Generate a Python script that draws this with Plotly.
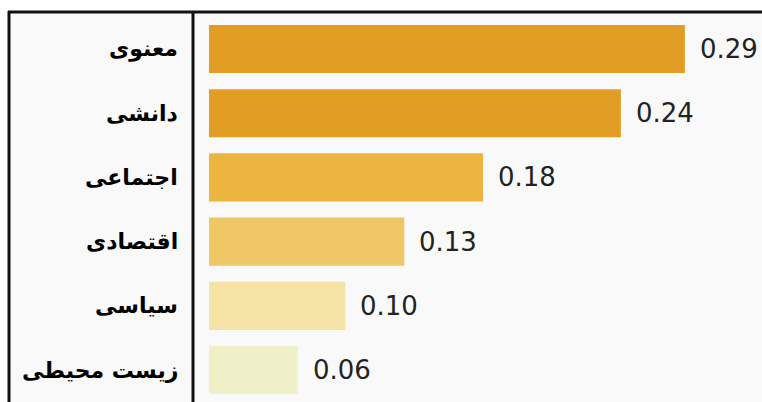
import plotly.graph_objects as go

categories = ["معنوی", "دانشی", "اجتماعی", "اقتصادی", "سیاسی", "زیست محیطی"]
values = [0.290, 0.251, 0.167, 0.119, 0.083, 0.054]
value_labels = ["0.29", "0.24", "0.18", "0.13", "0.10", "0.06"]
colors = ["#E29D24", "#E29D24", "#EBB53F", "#EFC865", "#F4E3A5", "#EFF0C8"]

W, H = 762, 402
def px(x): return x / W
def py(y): return 1 - y / H

idx = list(range(len(categories)))

fig = go.Figure()
fig.add_trace(go.Bar(
    x=values, y=idx, orientation="h",
    marker=dict(color=colors, line=dict(width=0)),
    width=0.75, hoverinfo="skip",
))

ann = []
for i, (v, t) in enumerate(zip(values, value_labels)):
    ann.append(dict(x=v, y=i, xref="x", yref="y", text=t, showarrow=False,
                    xanchor="left", yanchor="middle", xshift=13,
                    font=dict(family="DejaVu Sans", size=26, color="#222222")))
for i, c in enumerate(categories):
    ann.append(dict(x=px(180), y=i, xref="paper", yref="y", text=c, showarrow=False,
                    xanchor="right", yanchor="middle",
                    font=dict(family="DejaVu Sans", size=22, color="#000000", weight="bold")))

shapes = [
    dict(type="rect", xref="paper", yref="paper", x0=px(9), x1=1.01, y0=-0.01, y1=py(12),
         fillcolor="#F9F9F9", line=dict(width=0), layer="below"),
    dict(type="line", xref="paper", yref="paper", x0=px(9), x1=px(9), y0=-0.01, y1=py(11),
         line=dict(color="#111111", width=3)),
    dict(type="line", xref="paper", yref="paper", x0=px(8), x1=1.01, y0=py(12), y1=py(12),
         line=dict(color="#111111", width=3)),
    dict(type="line", xref="paper", yref="paper", x0=px(193), x1=px(193), y0=-0.01, y1=py(12),
         line=dict(color="#111111", width=3)),
]

fig.update_layout(
    width=W, height=H,
    margin=dict(l=0, r=0, t=0, b=0),
    paper_bgcolor="#FFFFFF", plot_bgcolor="rgba(0,0,0,0)",
    showlegend=False,
    xaxis=dict(range=[-209 / 1641, (W - 209) / 1641], visible=False, fixedrange=True),
    yaxis=dict(range=[(H - 49) / 64.2, -49 / 64.2], visible=False, fixedrange=True),
    annotations=ann, shapes=shapes,
)

fig.write_html("out.html")
